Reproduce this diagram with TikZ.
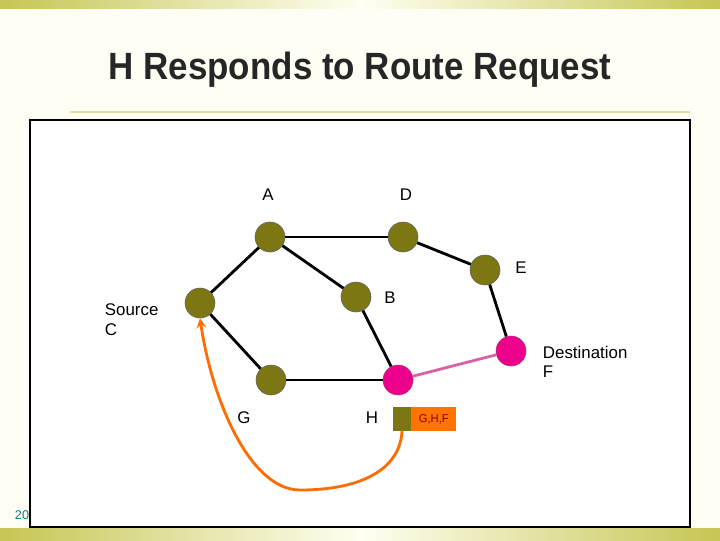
\documentclass[tikz,border=0pt]{standalone}
\usepackage{fontspec}
\setmainfont{Liberation Sans}
\begin{document}
\begin{tikzpicture}[x=0.025cm, y=-0.025cm,
    host/.style={circle, draw=black!60, fill=olive!85!black, minimum size=30*0.025cm, inner sep=0pt},
    dest/.style={circle, draw=magenta!70!black, fill=magenta, minimum size=30*0.025cm, inner sep=0pt},
    lab/.style={font=\fontsize{12}{14}\selectfont, align=left}]

    % Sfondo della slide
    \fill[yellow!4!white] (0,0) rectangle (720,540);
    \shade[left color=olive!45, right color=olive!45, middle color=yellow!5] (0,0) rectangle (720,8);
    \shade[left color=olive!45, right color=olive!45, middle color=yellow!5] (0,528) rectangle (720,540);
    \draw[olive!30, line width=2pt] (70,112) -- (690,112);

    % Titolo
    \node[font=\bfseries\fontsize{27}{30}\selectfont, text=black!85, xscale=0.92] (title) at (360,70) {H Responds to Route Request};
    \node[font=\fontsize{9}{10}\selectfont, text=teal, anchor=west] (num) at (10,515) {2021};

    % Riquadro
    \draw[fill=white, thick] (30,120) rectangle (690,527);

    % Nodi
    \node[host] (A) at (270,237) {};
    \node[host] (D) at (403,237) {};
    \node[host] (E) at (485,270) {};
    \node[host] (B) at (356,297) {};
    \node[host] (C) at (200,303) {};
    \node[dest] (F) at (511,351) {};
    \node[host] (G) at (271,380) {};
    \node[dest] (H) at (398,380) {};

    % Etichette
    \node[lab] (lA) at (268,195) {A};
    \node[lab] (lD) at (406,195) {D};
    \node[lab] (lE) at (521,268) {E};
    \node[lab] (lB) at (390,298) {B};
    \node[lab, anchor=west] (lC) at (100,320) {Source\\C};
    \node[lab, anchor=west] (lF) at (538,362) {Destination\\F};
    \node[lab] (lG) at (244,418) {G};
    \node[lab] (lH) at (372,418) {H};

    % Collegamenti
    \draw[line width=2pt] (A) -- (D);
    \draw[line width=2pt] (A) -- (C);
    \draw[line width=2pt] (A) -- (B);
    \draw[line width=2pt] (D) -- (E);
    \draw[line width=2pt] (E) -- (F);
    \draw[line width=2pt] (B) -- (H);
    \draw[line width=2pt] (C) -- (G);
    \draw[line width=2pt] (G) -- (H);
    \draw[line width=2pt, magenta!60!violet!70!white] (H) -- (F);

    % Pacchetto RREP
    \fill[olive!85!black] (393,407) rectangle (411,431);
    \node[fill=orange!90!red, minimum width=45*0.025cm, minimum height=24*0.025cm, inner sep=0pt,
        font=\fontsize{8}{9}\selectfont, text=red!50!black, anchor=west] (pkt) at (411,419) {G,H,F};
    \coordinate (pktS) at (402,431);
    \coordinate (bot) at (300,490);

    % Percorso di risposta
    \draw[->, >=stealth, orange!85!red, line width=2pt] (pktS) .. controls (400,470) and (360,490) .. (bot)
        .. controls (250,490) and (212,400) .. (C.south);

\end{tikzpicture}
\end{document}
